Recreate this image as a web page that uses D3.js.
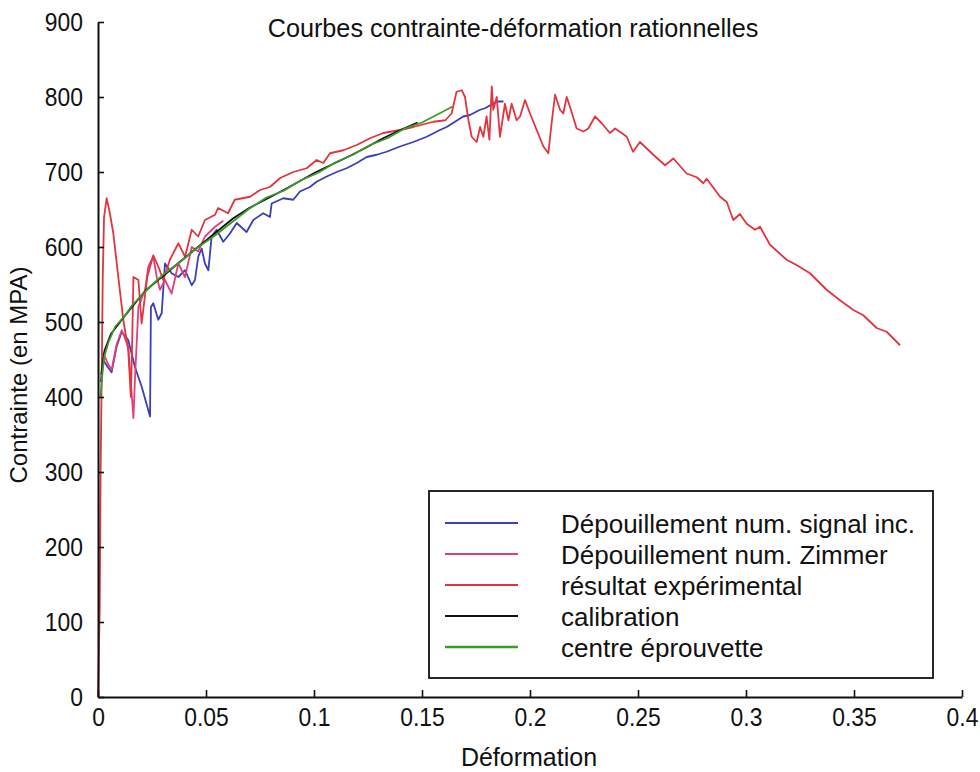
<!DOCTYPE html>
<html><head><meta charset="utf-8">
<script src="https://cdn.jsdelivr.net/npm/d3@7"></script>
<style>
html,body{margin:0;padding:0;background:#fff;}
text{font-family:"Liberation Sans",Arial,sans-serif;fill:#111;}
</style></head>
<body><svg id="chart" width="980" height="772"></svg>
<script>
const title = "Courbes contrainte-déformation rationnelles";
const xLabel = "Déformation";
const yLabel = "Contrainte (en MPA)";
const xTickValues = [0,0.05,0.1,0.15,0.2,0.25,0.3,0.35,0.4];
const xTickLabels = ["0","0.05","0.1","0.15","0.2","0.25","0.3","0.35","0.4"];
const yTickValues = [0,100,200,300,400,500,600,700,800,900];
const yTickLabels = ["0","100","200","300","400","500","600","700","800","900"];
const seriesNames = ["Dépouillement num. signal inc.","Dépouillement num. Zimmer","résultat expérimental","calibration","centre éprouvette"];
const seriesColors = ["#3a3fb8","#e0407a","#e2343e","#111111","#3f9a2c"];

const signalInc = [[0.0012,420],[0.0025,449],[0.0045,440],[0.0063,433],[0.0086,467],[0.011,487],[0.014,476],[0.0171,440],[0.0202,414],[0.0241,374],[0.0245,520],[0.0256,525],[0.0279,503],[0.0295,512],[0.031,578],[0.0341,565],[0.0372,560],[0.0403,569],[0.0434,549],[0.0449,556],[0.0464,587],[0.048,598],[0.0495,578],[0.0511,569],[0.0526,614],[0.0549,623],[0.058,607],[0.0611,618],[0.0642,632],[0.0688,620],[0.0719,636],[0.0765,645],[0.0796,640],[0.0804,658],[0.0858,665],[0.0904,663],[0.0935,674],[0.0981,680],[0.1012,687],[0.1059,694],[0.1105,700],[0.1151,705],[0.1198,712],[0.1244,720],[0.129,723],[0.1336,727],[0.1398,734],[0.146,740],[0.1522,747],[0.1583,756],[0.1614,760],[0.1691,774],[0.1722,776],[0.1769,783],[0.1792,785],[0.1846,794],[0.1877,794]];

const zimmer = [[0.0018,420],[0.0025,458],[0.0045,445],[0.0063,436],[0.0086,470],[0.011,489],[0.014,467],[0.0164,372],[0.0171,423],[0.0187,520],[0.0218,543],[0.0233,574],[0.0256,587],[0.0272,560],[0.0287,543],[0.031,556],[0.0341,538],[0.0372,578],[0.0403,560],[0.0434,600],[0.0464,594],[0.0495,614],[0.0542,627],[0.058,635]];

const experimental = [[0,0],[0.0008,120],[0.0012,300],[0.0018,450],[0.0022,560],[0.0028,640],[0.004,665],[0.0055,645],[0.0071,618],[0.0094,560],[0.0117,503],[0.014,463],[0.0152,400],[0.0158,470],[0.0164,560],[0.0187,556],[0.0202,498],[0.0228,560],[0.0256,589],[0.0279,574],[0.0302,556],[0.0333,583],[0.0372,605],[0.0403,587],[0.0434,623],[0.0464,614],[0.0495,636],[0.0542,643],[0.0556,652],[0.0602,645],[0.0633,663],[0.0704,667],[0.075,676],[0.0796,680],[0.0843,692],[0.0904,700],[0.0966,705],[0.1012,716],[0.1043,712],[0.1074,725],[0.1136,729],[0.1198,736],[0.1259,745],[0.1321,752],[0.1398,756],[0.146,760],[0.1552,767],[0.1608,769],[0.1637,778],[0.166,807],[0.1684,809],[0.1699,800],[0.1715,769],[0.173,747],[0.1753,740],[0.1769,760],[0.1784,747],[0.1799,774],[0.1812,743],[0.1823,814],[0.183,783],[0.1846,800],[0.1861,747],[0.1884,791],[0.19,769],[0.1915,791],[0.1938,769],[0.1954,774],[0.1977,796],[0.2,778],[0.2031,756],[0.2062,734],[0.2085,725],[0.21,765],[0.2116,803],[0.2139,783],[0.2154,778],[0.217,800],[0.2185,787],[0.2216,758],[0.2247,754],[0.227,758],[0.2301,774],[0.2332,765],[0.237,752],[0.2394,758],[0.2424,752],[0.2448,747],[0.2477,727],[0.2509,740],[0.2571,723],[0.2625,709],[0.2664,718],[0.2725,698],[0.2772,693],[0.2802,685],[0.2818,691],[0.288,667],[0.2911,660],[0.2941,636],[0.2972,644],[0.3003,631],[0.3042,623],[0.3065,627],[0.3111,603],[0.3188,583],[0.3234,576],[0.3296,565],[0.3373,543],[0.3435,529],[0.3497,516],[0.3543,509],[0.3605,492],[0.3651,487],[0.3713,469]];

const calibration = [[0.0015,430],[0.003,462],[0.006,484],[0.011,503],[0.016,521],[0.022,542],[0.03,561],[0.037,578],[0.045,597],[0.0527,615],[0.0625,638],[0.07,652],[0.078,664],[0.086,676],[0.0935,688],[0.101,700],[0.109,711],[0.117,722],[0.1244,733],[0.132,745],[0.14,756],[0.148,766]];

const centre = [[0.0012,400],[0.002,432],[0.003,455],[0.005,474],[0.008,494],[0.012,507],[0.016,523],[0.022,541],[0.03,563],[0.038,580],[0.046,599],[0.054,615],[0.062,633],[0.07,651],[0.078,666],[0.086,675],[0.094,689],[0.102,699],[0.11,713],[0.118,723],[0.126,736],[0.134,745],[0.142,758],[0.15,766],[0.156,775],[0.16,781],[0.164,787]];

const allSeries = [signalInc, zimmer, experimental, calibration, centre];

const svg = d3.select("#chart");
const x = d3.scaleLinear().domain([0,0.4]).range([98,962]);
const y = d3.scaleLinear().domain([0,900]).range([697,22]);
const FS = 26, SX = 0.88;

// lines
const line = d3.line().x(d=>x(d[0])).y(d=>y(d[1]));
svg.append("g").selectAll("path").data(allSeries).join("path")
  .attr("d", line).attr("fill","none")
  .attr("stroke",(d,i)=>seriesColors[i]).attr("stroke-width",1.8)
  .attr("stroke-linejoin","round");

// axes
const xAxis = d3.axisBottom(x).tickValues(xTickValues)
  .tickFormat((d,i)=>xTickLabels[i]).tickSizeInner(-7).tickSizeOuter(0).tickPadding(11);
const yAxis = d3.axisLeft(y).tickValues(yTickValues)
  .tickFormat((d,i)=>yTickLabels[i]).tickSizeInner(-6).tickSizeOuter(0).tickPadding(15);
const gx = svg.append("g").attr("transform","translate(0,697)").call(xAxis);
const gy = svg.append("g").attr("transform","translate(98,0)").call(yAxis);
[gx,gy].forEach(g=>{
  g.select(".domain").attr("stroke","#111").attr("stroke-width",2);
  g.selectAll(".tick line").attr("stroke","#111").attr("stroke-width",1.6);
  g.selectAll(".tick text").attr("font-size",FS).attr("fill","#111")
   .attr("font-family","'Liberation Sans',Arial,sans-serif")
   .attr("transform",`scale(${SX},1)`);
});
gy.selectAll(".tick text").attr("x",-15/SX);

// title and axis labels
svg.append("text").attr("x",513).attr("y",37).attr("text-anchor","middle")
  .attr("font-size",FS).attr("transform",`translate(513,0) scale(0.97,1) translate(-513,0)`).text(title);
svg.append("text").attr("x",529).attr("y",766).attr("text-anchor","middle")
  .attr("font-size",25).text(xLabel);
svg.append("text").attr("transform","translate(27,375) rotate(-90)")
  .attr("text-anchor","middle").attr("font-size",24).text(yLabel);

// legend
const lg = svg.append("g");
lg.append("rect").attr("x",429).attr("y",491).attr("width",504).attr("height",187)
  .attr("fill","#fff").attr("stroke","#111").attr("stroke-width",1.8);
const rows = lg.selectAll("g.row").data(seriesNames).join("g").attr("class","row")
  .attr("transform",(d,i)=>`translate(0,${523+i*31})`);
rows.append("line").attr("x1",445).attr("x2",518).attr("y1",0).attr("y2",0)
  .attr("stroke",(d,i)=>seriesColors[i]).attr("stroke-width",(d,i)=>i===4?2.6:1.8);
rows.append("text").attr("x",561).attr("y",10).attr("font-size",FS).text(d=>d);
</script></body></html>
